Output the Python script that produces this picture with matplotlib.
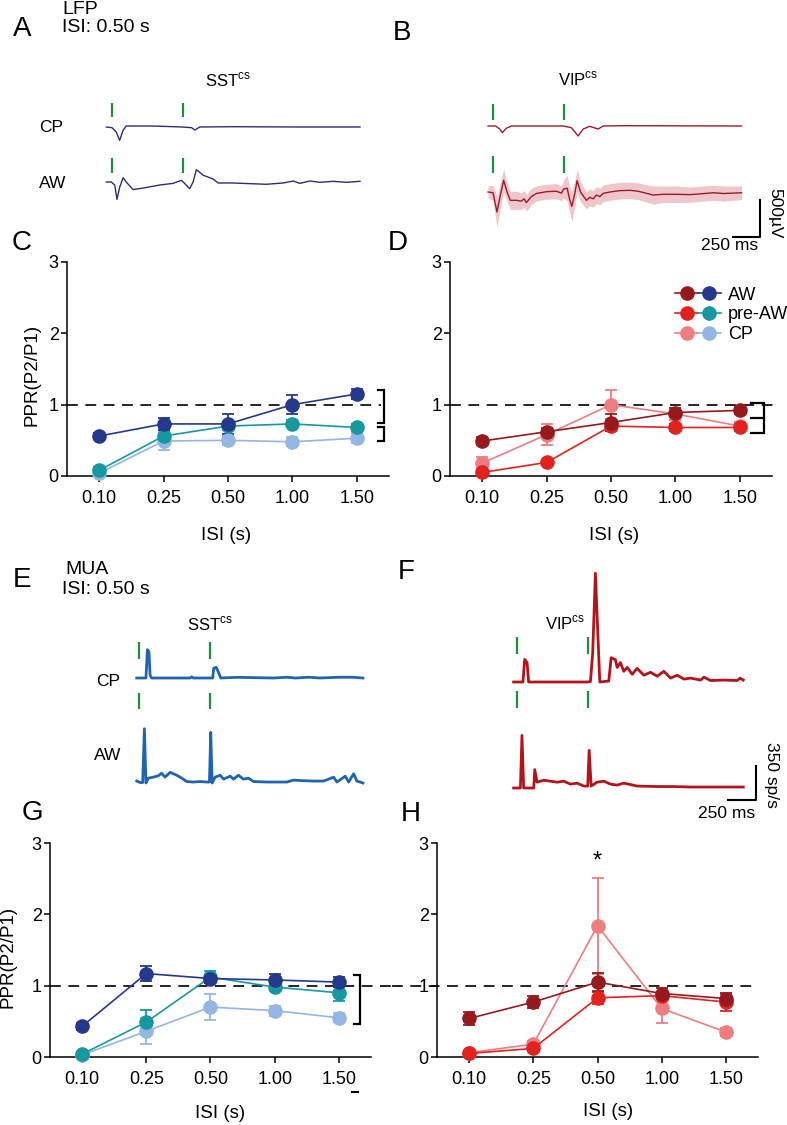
import matplotlib
matplotlib.use("Agg")
import matplotlib.pyplot as plt
import numpy as np
from matplotlib.lines import Line2D
from matplotlib.legend_handler import HandlerTuple

plt.rcParams['font.family'] = ['Liberation Sans', 'DejaVu Sans']

W, H = 787, 1125

# ---------------- PPR data (mean, sem) ----------------
ISI_LABELS = ['0.10', '0.25', '0.50', '1.00', '1.50']

# C: LFP, SST
sst_lfp_aw = [0.56, 0.73, 0.73, 1.00, 1.15]
sst_lfp_aw_err = [0.04, 0.08, 0.14, 0.13, 0.07]
sst_lfp_pre = [0.08, 0.56, 0.70, 0.73, 0.68]
sst_lfp_pre_err = [0.04, 0.08, 0.06, 0.05, 0.05]
sst_lfp_cp = [0.04, 0.49, 0.50, 0.48, 0.53]
sst_lfp_cp_err = [0.03, 0.13, 0.06, 0.06, 0.07]

# D: LFP, VIP
vip_lfp_aw = [0.49, 0.62, 0.75, 0.89, 0.92]
vip_lfp_aw_err = [0.05, 0.05, 0.12, 0.06, 0.05]
vip_lfp_pre = [0.05, 0.19, 0.70, 0.68, 0.68]
vip_lfp_pre_err = [0.03, 0.04, 0.06, 0.05, 0.05]
vip_lfp_cp = [0.18, 0.58, 1.00, 0.87, 0.70]
vip_lfp_cp_err = [0.08, 0.15, 0.20, 0.08, 0.06]

# G: MUA, SST
sst_mua_aw = [0.43, 1.17, 1.10, 1.08, 1.05]
sst_mua_aw_err = [0.05, 0.10, 0.06, 0.08, 0.07]
sst_mua_pre = [0.04, 0.49, 1.12, 0.98, 0.90]
sst_mua_pre_err = [0.02, 0.17, 0.08, 0.06, 0.11]
sst_mua_cp = [0.03, 0.36, 0.70, 0.65, 0.55]
sst_mua_cp_err = [0.02, 0.18, 0.18, 0.07, 0.06]

# H: MUA, VIP
vip_mua_aw = [0.54, 0.77, 1.05, 0.89, 0.82]
vip_mua_aw_err = [0.09, 0.08, 0.13, 0.08, 0.08]
vip_mua_pre = [0.05, 0.12, 0.83, 0.86, 0.77]
vip_mua_pre_err = [0.02, 0.04, 0.08, 0.05, 0.12]
vip_mua_cp = [0.06, 0.18, 1.84, 0.68, 0.35]
vip_mua_cp_err = [0.03, 0.05, 0.67, 0.20, 0.06]

# ---------------- example traces (time ms, value) ----------------
STIM_TIMES = [0, 500]

# A: LFP SST (uV)
sst_lfp_cp_t = [-40, 0, 30, 54, 78, 100, 290, 496, 560, 583, 618, 853, 1323, 1746]
sst_lfp_cp_v = [0, -9, -66, -176, -44, 13, 13, 0, -9, -40, 0, 4, 0, 0]
sst_lfp_aw_t = [-40, -5, 19, 35, 54, 78, 100, 148, 219, 336, 430, 489, 512, 547, 571,
                594, 641, 712, 747, 853, 970, 1088, 1205, 1276, 1323, 1393, 1464, 1558,
                1652, 1746]
sst_lfp_aw_v = [0, 0, -40, -229, -70, 57, 0, -100, -80, -40, -18, 22, -20, -88, 0,
                163, 90, 40, -13, -13, -22, -30, -13, 13, -18, 13, -4, 9, -4, 9]

# B: LFP VIP (uV)
vip_lfp_cp_t = [-35, 19, 47, 66, 94, 129, 494, 552, 599, 635, 681, 740, 776, 917, 1750]
vip_lfp_cp_v = [0, 0, -40, -88, -30, 0, 0, -22, -132, -40, -4, -40, 0, 4, 0]
vip_lfp_aw_t = [-35, 0, 28, 52, 75, 99, 122, 165, 200, 219, 235, 270, 305, 376, 446,
                482, 498, 522, 540, 555, 576, 592, 616, 635, 658, 681, 705, 728, 752,
                776, 823, 893, 964, 1022, 1128, 1199, 1293, 1387, 1457, 1551, 1622, 1750]
vip_lfp_aw_v = [0, -10, -264, -40, 154, 0, -110, -110, -120, -90, -140, -60, -20, 4, 10,
                -15, 40, 50, -100, -190, -20, 150, 0, -50, -110, -70, -90, -40, -60,
                -18, 0, 18, 22, 10, -40, -30, -30, -35, -25, -10, -20, -10]
vip_lfp_aw_sem = [80, 100, 200, 170, 150, 120, 120, 120, 110, 110, 110, 110, 100, 100, 100,
                  100, 120, 170, 170, 200, 170, 150, 130, 120, 110, 110, 110, 110, 110,
                  110, 110, 110, 110, 110, 120, 110, 110, 100, 100, 100, 100, 90]

# E: MUA SST (sp/s)
sst_mua_cp_t = [-16, 49, 59, 70, 78, 89, 360, 371, 382, 519, 526, 543, 559, 576, 689,
                950, 1040, 1100, 1200, 1270, 1410, 1500, 1577]
sst_mua_cp_v = [0, 0, 292, 270, 30, 0, 0, 12, 0, 0, 100, 110, 60, 0, 7,
                0, 8, 0, 8, 0, 8, 8, 0]
sst_mua_aw_t = [-16, 7, 26, 38, 49, 66, 101, 136, 160, 183, 219, 242, 266, 301, 336,
                383, 430, 477, 496, 505, 515, 536, 571, 595, 642, 665, 700, 735, 771,
                806, 900, 1041, 1088, 1135, 1229, 1300, 1370, 1393, 1452, 1476, 1511,
                1534, 1577]
sst_mua_aw_v = [20, 5, 5, 559, 0, 50, 60, 75, 100, 60, 110, 95, 80, 50, 15,
                10, 15, 10, 10, 521, 0, 60, 80, 40, 70, 40, 80, 40, 50,
                15, 10, 10, 30, 25, 20, 20, 60, 10, 70, 10, 95,
                20, 0]

# F: MUA VIP (sp/s)
vip_mua_cp_t = [-24, 42, 54, 71, 82, 494, 517, 533, 552, 569, 583, 646, 663, 693, 705,
                728, 752, 776, 811, 846, 893, 940, 987, 1034, 1081, 1128, 1175, 1222,
                1293, 1316, 1363, 1457, 1551, 1570, 1593]
vip_mua_cp_v = [0, 0, 233, 200, 0, 0, 5, 300, 1120, 500, 0, 10, 250, 230, 150,
                200, 110, 150, 80, 140, 70, 100, 60, 110, 40, 70, 30, 40,
                20, 50, 15, 20, 15, 40, 20]
vip_mua_aw_t = [-24, 24, 35, 47, 118, 125, 141, 188, 235, 282, 329, 376, 423, 470, 498,
                508, 522, 564, 611, 658, 705, 752, 846, 987, 1104, 1222, 1340, 1457, 1593]
vip_mua_aw_v = [0, 0, 542, 0, 0, 189, 60, 80, 70, 60, 70, 40, 50, 20, 20,
                388, 20, 60, 70, 40, 30, 50, 20, 15, 15, 10, 10, 10, 10]

# colours
SST_COLORS = ['#24398b', '#17979f', '#93b6e2']   # AW, pre-AW, CP
VIP_COLORS = ['#961a1d', '#e1221f', '#ee7d82']
GREEN = '#1f8e3d'


def px(l, t, r, b):
    return [l / W, 1 - b / H, (r - l) / W, (b - t) / H]


fig = plt.figure(figsize=(W / 100, H / 100), dpi=100)


def ppr_axes(rect, series, colors, dash_x=(-0.5, 4.5)):
    ax = fig.add_axes(px(*rect))
    x = np.arange(len(ISI_LABELS))
    ax.plot(dash_x, [1, 1], color='black', lw=1.2, ls=(0, (6.5, 4.5)),
            clip_on=False, zorder=1)
    # draw CP first, AW on top
    for (vals, errs), c in list(zip(series, colors))[::-1]:
        ax.errorbar(x, vals, yerr=errs, color=c, marker='o', ms=9.5, lw=1.2,
                    capsize=4.5, capthick=1.3, elinewidth=1.3, clip_on=False,
                    zorder=3)
    ax.set_xlim(-0.5, 4.5)
    ax.set_ylim(0, 3)
    ax.set_xticks(x, ISI_LABELS)
    ax.set_yticks([0, 1, 2, 3])
    for s in ['top', 'right']:
        ax.spines[s].set_visible(False)
    for s in ['left', 'bottom']:
        ax.spines[s].set_linewidth(1.1)
    ax.tick_params(length=4, width=1.1, labelsize=13, direction='out')
    ax.tick_params(axis='x', pad=6)
    ax.tick_params(axis='y', pad=2)
    return ax


def bracket(ax, xv, xl, top, bot, mid=None):
    ax.plot([xl, xv, xv, xl], [top, top, bot, bot], color='black', lw=1.6,
            clip_on=False, solid_joinstyle='miter')
    if mid is not None:
        ax.plot([xl, xv], [mid, mid], color='black', lw=1.6, clip_on=False)


# C
axC = ppr_axes((67, 262, 389, 476),
               [(sst_lfp_aw, sst_lfp_aw_err), (sst_lfp_pre, sst_lfp_pre_err),
                (sst_lfp_cp, sst_lfp_cp_err)], SST_COLORS, dash_x=(-0.5, 4.37))
bracket(axC, 4.42, 4.33, 1.2, 0.75)
bracket(axC, 4.42, 4.33, 0.69, 0.49)

# D
axD = ppr_axes((450, 262, 772, 476),
               [(vip_lfp_aw, vip_lfp_aw_err), (vip_lfp_pre, vip_lfp_pre_err),
                (vip_lfp_cp, vip_lfp_cp_err)], VIP_COLORS, dash_x=(-0.5, 4.53))
bracket(axD, 4.38, 4.18, 1.02, 0.60, mid=0.81)

handles = []
for cv, cs in zip(VIP_COLORS, SST_COLORS):
    h1 = Line2D([], [], color=cv, marker='o', ms=9.5, lw=1.2)
    h2 = Line2D([], [], color=cs, marker='o', ms=9.5, lw=1.2)
    handles.append((h1, h2))
axD.legend(handles, ['AW', 'pre-AW', 'CP'], handler_map={tuple: HandlerTuple(ndivide=None, pad=0)},
           loc='upper left', bbox_to_anchor=(0.7, 0.885), frameon=False, borderpad=0,
           borderaxespad=0, handlelength=2.5, handletextpad=0.4, labelspacing=0.15,
           fontsize=13)

# G
axG = ppr_axes((50, 843, 371, 1057),
               [(sst_mua_aw, sst_mua_aw_err), (sst_mua_pre, sst_mua_pre_err),
                (sst_mua_cp, sst_mua_cp_err)], SST_COLORS, dash_x=(-0.5, 4.94))
bracket(axG, 4.33, 4.24, 1.15, 0.46)

# H
axH = ppr_axes((437, 843, 758, 1057),
               [(vip_mua_aw, vip_mua_aw_err), (vip_mua_pre, vip_mua_pre_err),
                (vip_mua_cp, vip_mua_cp_err)], VIP_COLORS, dash_x=(-1.2, 4.5))
axH.text(2, 2.74, '*', ha='center', va='center', fontsize=17)


# ---------------- traces ----------------
MS_PER_PX = 7.04


def trace_axes(l, t, r, b, x0, y0, unit_per_px):
    ax = fig.add_axes(px(l, t, r, b))
    ax.set_xlim((l - x0) * MS_PER_PX, (r - x0) * MS_PER_PX)
    ax.set_ylim((y0 - b) * unit_per_px, (y0 - t) * unit_per_px)
    ax.axis('off')
    return ax


def stim_ticks(ax, base, lo_px, hi_px, upp):
    ax.vlines(STIM_TIMES, base + lo_px * upp, base + hi_px * upp, color=GREEN, lw=1.6)


# A
UV = 13.2
axA = trace_axes(100, 95, 370, 215, 112, 182, UV)
offA = 55 * UV
axA.plot(sst_lfp_cp_t, np.array(sst_lfp_cp_v) + offA, color='#2f2d72', lw=1.0)
axA.plot(sst_lfp_aw_t, sst_lfp_aw_v, color='#2f2d72', lw=1.0)
stim_ticks(axA, offA, 10, 24, UV)
stim_ticks(axA, 0, 9, 24, UV)

# B
axB = trace_axes(480, 95, 750, 240, 493, 192, UV)
offB = 66 * UV
axB.plot(vip_lfp_cp_t, np.array(vip_lfp_cp_v) + offB, color='#9b1b2b', lw=1.0)
m = np.array(vip_lfp_aw_v)
s = np.array(vip_lfp_aw_sem)
axB.fill_between(vip_lfp_aw_t, m - s, m + s, color='#eab8be', alpha=0.8, lw=0)
axB.plot(vip_lfp_aw_t, m, color='#9b1b2b', lw=1.0)
stim_ticks(axB, offB, 6, 22, UV)
stim_ticks(axB, 0, 19, 36, UV)

# E
SP = 10.3
axE = trace_axes(130, 630, 370, 800, 139, 783, SP)
offE = 105 * SP
axE.plot(sst_mua_cp_t, np.array(sst_mua_cp_v) + offE, color='#1f64ae', lw=2.0)
axE.plot(sst_mua_aw_t, sst_mua_aw_v, color='#1f64ae', lw=2.0)
stim_ticks(axE, offE, 19, 36, SP)
stim_ticks(axE, 0, 74, 90, SP)

# F
axF = trace_axes(505, 555, 750, 800, 517, 788, SP)
offF = 106 * SP
axF.plot(vip_mua_cp_t, np.array(vip_mua_cp_v) + offF, color='#b3141c', lw=2.0)
axF.plot(vip_mua_aw_t, vip_mua_aw_v, color='#b3141c', lw=2.0)
stim_ticks(axF, offF, 28, 45, SP)
stim_ticks(axF, 0, 80, 97, SP)

# ---------------- overlay text, scale bars ----------------
ov = fig.add_axes([0, 0, 1, 1])
ov.set_xlim(0, W)
ov.set_ylim(H, 0)
ov.axis('off')


def t(x, y, s, size=13.5, ha='center', **kw):
    ov.text(x, y, s, ha=ha, va='center', fontsize=size, **kw)


for letter, (x, y) in {'A': (22, 29), 'B': (402, 33), 'C': (22, 243), 'D': (398, 243),
                       'E': (22, 580), 'F': (406, 572), 'G': (32, 813),
                       'H': (411, 814)}.items():
    t(x, y, letter, size=20)

t(62, 9, 'LFP', size=14, ha='left')
t(62, 27, 'ISI: 0.50 s', size=14, ha='left')
t(65, 569, 'MUA', size=14, ha='left')
t(62, 589, 'ISI: 0.50 s', size=14, ha='left')

t(228, 80, r'SST$^{\mathregular{cs}}$', size=12)
t(578, 79, r'VIP$^{\mathregular{cs}}$', size=12)
t(210, 624, r'SST$^{\mathregular{cs}}$', size=12)
t(565, 623, r'VIP$^{\mathregular{cs}}$', size=12)

t(51, 127, 'CP', size=12.5)
t(53, 183, 'AW', size=12.5)
t(108, 682, 'CP', size=12.5)
t(108, 755, 'AW', size=12.5)

# LFP scale bar
ov.plot([733, 760, 760], [237, 237, 200], color='black', lw=1.5)
t(775, 213, '500µV', size=12.5, rotation=270)
t(730, 246, '250 ms', size=12.5)
# MUA scale bar
ov.plot([728, 756, 756], [800, 800, 766], color='black', lw=1.5)
t(771, 775, '350 sp/s', size=12.5, rotation=270)
t(727, 813, '250 ms', size=12.5)

# axis labels
t(226, 535, 'ISI (s)')
t(614, 535, 'ISI (s)')
t(220, 1113, 'ISI (s)')
t(608, 1111, 'ISI (s)')
t(32, 375, 'PPR(P2/P1)', rotation=90)
t(8, 957, 'PPR(P2/P1)', rotation=90)
ov.plot([352, 358], [1092, 1092], color='black', lw=1.5)

fig.savefig('out.png', dpi=100)
